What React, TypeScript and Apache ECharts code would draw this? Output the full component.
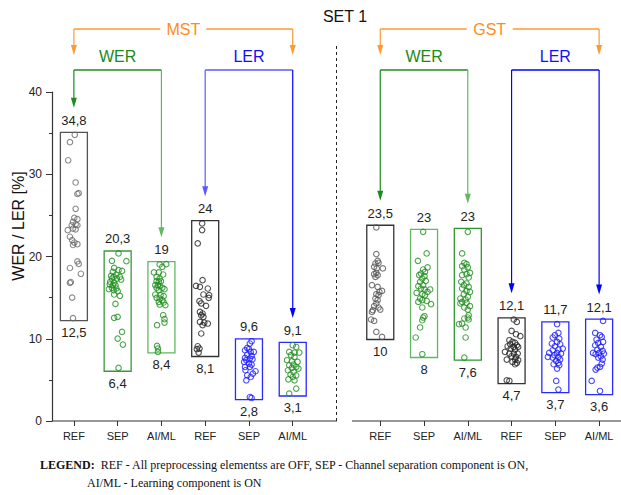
import React, { useEffect, useRef } from 'react';
import * as echarts from 'echarts';

// ---------- data ----------
const categories = ['REF', 'SEP', 'AI/ML', 'REF', 'SEP', 'AI/ML', '', 'REF', 'SEP', 'AI/ML', 'REF', 'SEP', 'AI/ML'];
const boxPositions = [0, 1, 2, 3, 4, 5, 7, 8, 9, 10, 11, 12];
const maxLabels = [34.8, 20.3, 19, 24, 9.6, 9.1, 23.5, 23, 23, 12.1, 11.7, 12.1];
const minLabels = [12.5, 6.4, 8.4, 8.1, 2.8, 3.1, 10, 8, 7.6, 4.7, 3.7, 3.6];
const boxHigh = [35.1, 20.67, 19.37, 24.36, 9.99, 9.55, 23.8, 23.3, 23.43, 12.55, 12.06, 12.39];
const boxLow = [12.2, 6.05, 8.28, 7.84, 2.6, 3.04, 9.91, 7.72, 7.39, 4.55, 3.46, 3.2];

// points: [jitter (category units), value]
const mstWerRef = [[0.02,34.8],[-0.09,33.9],[-0.13,31.7],[0.04,29.0],[0.11,27.7],[0.08,27.6],[0.04,25.8],[0.01,24.7],[0.08,24.55],[-0.02,24.2],[0.04,23.9],[-0.05,23.8],[0.08,23.8],[-0.02,23.4],[-0.14,23.2],[0.04,23.3],[-0.09,22.4],[-0.04,22.0],[0.01,21.7],[0.08,21.5],[-0.02,21.4],[0.08,19.4],[0.11,19.1],[-0.09,18.6],[0.16,17.9],[-0.07,16.9],[-0.09,16.8],[-0.04,15.0],[-0.02,12.5]];
const mstWerSep = [[0.02,20.37],[-0.13,19.47],[0.2,19.43],[-0.08,18.62],[0.02,18.34],[0.1,18.25],[-0.11,18.13],[-0.03,17.81],[-0.15,17.65],[-0.09,17.52],[0.05,17.52],[-0.13,17.32],[-0.02,17.32],[0.08,17.2],[-0.17,16.92],[-0.08,16.84],[-0.18,16.6],[-0.11,16.51],[-0.05,16.51],[-0.13,16.19],[-0.03,16.11],[-0.2,16.03],[-0.09,15.91],[0,15.78],[-0.08,15.38],[0.05,15.22],[-0.05,14.24],[-0.08,12.54],[0,12.66],[0.1,10.83],[0,10.02],[0.12,9.29],[0.02,6.45]];
const mstWerAi = [[0.11,19.07],[-0.04,19.03],[0.02,18.75],[-0.17,18.06],[-0.06,18.06],[0.04,17.81],[-0.11,17.52],[-0.04,17.32],[-0.11,17.0],[-0.06,16.92],[-0.01,17.0],[-0.14,16.51],[-0.08,16.51],[-0.04,16.43],[-0.11,16.19],[0.02,16.19],[0.07,16.03],[-0.06,15.91],[-0.14,15.38],[-0.02,15.3],[0.05,15.18],[-0.11,14.97],[-0.04,14.89],[0.02,14.69],[-0.06,14.48],[0.05,14.41],[0.09,14.08],[-0.04,14.16],[0.04,12.86],[0.07,12.38],[0.07,11.97],[-0.1,11.65],[-0.1,9.13],[-0.08,8.81],[-0.08,8.4]];
const mstLerRef = [[-0.07,24.02],[-0.07,23.21],[-0.17,21.59],[-0.06,17.12],[-0.21,16.43],[-0.12,16.31],[0.06,16.11],[-0.04,15.38],[0.09,15.3],[0.08,14.97],[-0.13,14.57],[-0.09,14.29],[0.02,14.0],[-0.12,13.26],[-0.06,13.07],[-0.09,12.86],[-0.04,12.66],[-0.12,12.05],[-0.02,11.97],[0.06,11.85],[-0.06,11.65],[-0.09,10.64],[-0.17,9.09],[-0.13,8.81],[-0.19,8.73],[-0.15,8.32]];
const mstLerSep = [[0.06,9.7],[0.02,9.42],[-0.04,8.88],[0,8.73],[-0.09,8.6],[0.04,8.4],[0.11,8.4],[-0.04,8.08],[0.06,7.91],[-0.09,7.67],[0.02,7.59],[-0.06,7.39],[0.08,7.51],[-0.11,7.18],[0,6.98],[0.06,6.86],[-0.09,6.57],[0.02,6.57],[-0.08,6.17],[0.15,6.05],[0.09,5.77],[-0.04,5.56],[0.04,5.35],[-0.06,4.95],[0.02,2.92],[0.06,2.8]];
const mstLerAi = [[0,9.21],[0.08,9.0],[-0.08,8.4],[0.04,8.32],[0.15,8.32],[-0.04,8.0],[0.04,7.79],[-0.13,7.39],[-0.02,7.26],[0.11,7.18],[0.02,6.86],[-0.08,6.78],[0.08,6.57],[-0.02,6.45],[0.13,6.37],[-0.11,6.17],[0.02,5.96],[-0.05,5.64],[0.08,5.56],[0,5.35],[-0.1,5.07],[0.04,4.95],[0.08,3.94],[-0.08,3.33]];
const gstWerRef = [[-0.09,23.53],[-0.09,20.29],[-0.06,19.47],[-0.11,19.15],[-0.04,19.23],[-0.14,18.75],[-0.08,18.55],[0.06,18.55],[-0.09,18.01],[-0.14,17.85],[-0.06,17.73],[-0.11,17.52],[-0.19,16.51],[-0.06,16.31],[-0.02,15.7],[0.04,15.82],[-0.09,15.42],[-0.04,15.3],[-0.11,14.89],[-0.06,14.69],[-0.09,14.29],[-0.14,13.96],[-0.04,13.8],[0,13.55],[-0.17,13.47],[-0.19,13.26],[-0.21,12.34],[-0.14,12.17],[-0.09,10.83],[0.04,10.22]];
const gstWerSep = [[-0.02,23.0],[0.06,20.37],[-0.14,19.47],[0.08,18.67],[-0.02,18.42],[0.02,18.13],[-0.07,17.93],[-0.11,17.73],[0.01,17.61],[-0.04,17.32],[-0.09,16.92],[0.04,17.04],[-0.02,16.51],[-0.13,16.39],[-0.07,16.11],[0.01,15.99],[0.14,15.99],[0.08,15.7],[-0.17,15.58],[-0.04,15.42],[0.02,15.3],[-0.09,14.89],[-0.04,14.69],[0.06,14.6],[-0.13,14.48],[0.16,14.2],[-0.04,13.8],[0.01,12.74],[-0.02,12.58],[-0.04,12.25],[-0.09,11.37],[-0.19,10.15],[-0.04,8.12]];
const gstWerAi = [[0,23.0],[-0.13,20.37],[-0.08,19.23],[-0.03,19.07],[-0.13,18.83],[0,18.67],[-0.08,18.42],[0.05,18.01],[-0.13,17.73],[-0.03,17.85],[0.02,17.45],[-0.15,16.92],[-0.03,16.72],[-0.09,16.51],[0.02,16.31],[-0.13,16.11],[-0.03,15.82],[0.05,15.7],[-0.09,15.42],[0,15.1],[-0.17,14.89],[-0.05,14.77],[-0.13,14.48],[-0.03,14.37],[-0.17,14.29],[0.05,13.96],[-0.08,13.8],[0,13.55],[0.02,12.86],[0,12.58],[-0.08,12.46],[-0.13,11.85],[0.02,12.34],[-0.2,11.77],[-0.05,11.37],[-0.05,10.15],[-0.08,7.71]];
const gstLerRef = [[0.05,12.34],[0.12,12.05],[0,10.95],[0.1,10.55],[0.2,10.31],[-0.05,9.82],[0.02,9.62],[0.08,9.49],[-0.03,9.33],[0.12,9.21],[-0.09,9.09],[0.05,9.01],[0.15,9.01],[-0.02,8.81],[0.08,8.69],[-0.15,8.4],[-0.05,8.2],[0.05,8.2],[0.14,8.2],[0,7.87],[0.1,7.79],[-0.11,7.47],[0.08,7.47],[0.15,7.39],[0.02,7.18],[0.12,7.06],[0.08,6.9],[-0.11,4.95],[-0.05,4.87]];
const gstLerSep = [[0.04,11.77],[0.07,10.71],[-0.01,10.43],[-0.06,10.15],[0.09,10.02],[0.04,9.62],[-0.08,9.42],[0.11,9.33],[-0.01,9.09],[0.17,8.81],[0.07,8.69],[-0.06,8.6],[-0.14,8.28],[0.04,8.28],[0.13,8.2],[-0.02,8.0],[-0.17,7.79],[0.07,7.79],[-0.06,7.71],[0.11,7.47],[0.02,7.3],[0.07,7.06],[-0.04,6.9],[0.09,6.78],[0.04,6.37],[0.02,4.87],[0.07,3.82]];
const gstLerAi = [[0.09,12.17],[-0.09,10.71],[0.02,10.43],[0.06,10.22],[-0.06,9.9],[0.09,9.62],[-0.02,9.49],[-0.09,9.21],[0.04,9.01],[-0.04,8.69],[0.08,8.52],[-0.14,8.28],[0,8.28],[0.11,8.2],[-0.08,8.12],[0.04,7.87],[-0.02,7.71],[0.08,7.47],[0.06,6.98],[-0.04,6.49],[0.02,6.57],[-0.08,6.25],[-0.17,4.87],[0.02,3.65]];

const pointSets = [mstWerRef, mstWerSep, mstWerAi, mstLerRef, mstLerSep, mstLerAi, gstWerRef, gstWerSep, gstWerAi, gstLerRef, gstLerSep, gstLerAi];

const yTicks = { min: 0, max: 40, interval: 10 };

// ---------- styles ----------
const FONT = 'Liberation Sans, Arial, sans-serif';
const SERIF = 'Liberation Serif, Times New Roman, serif';
const boxStroke = ['#555555', '#3a9a3a', '#62b862', '#333333', '#2a2aff', '#2a2aff', '#333333', '#62b862', '#2e962e', '#333333', '#2a2aff', '#2a2aff'];
const pointColor = ['#6a6a6a', '#1f8f1f', '#1f8f1f', '#222222', '#1a1aff', '#1f8f1f', '#555555', '#1f8f1f', '#1f8f1f', '#222222', '#1a1aff', '#1a1aff'];
const ORANGE = '#ff9933';
const GREEN = '#1f8a1f';
const GREEN_L = '#62b862';
const BLUE = '#0000ff';
const BLUE_L = '#5a5aff';

const fmt = (v: number) => String(v).replace('.', ',');

export default function App() {
  const ref = useRef<HTMLDivElement>(null);
  useEffect(() => {
    if (!ref.current) return;
    const chart = echarts.init(ref.current, null, { renderer: 'svg' });

    const boxData = boxPositions.map((p, i) => [p, boxLow[i], boxHigh[i]]);

    const scatterSeries = pointSets.map((pts, i) => ({
      type: 'scatter',
      xAxisIndex: 1,
      yAxisIndex: 0,
      symbol: 'circle',
      symbolSize: 5.5,
      itemStyle: { color: 'rgba(0,0,0,0)', borderColor: pointColor[i], borderWidth: 1.1 },
      data: pts.map(([j, v]) => [boxPositions[i] + j, v]),
      z: 3,
    }));

    const option: any = {
      animation: false,
      grid: { left: 52, right: -4, top: 92, bottom: 74, containLabel: false },
      xAxis: [
        {
          type: 'category',
          data: categories,
          boundaryGap: true,
          axisLine: { show: false },
          axisTick: { show: true, alignWithLabel: true, length: 5, interval: (i: number) => i !== 6, lineStyle: { color: '#333', width: 1 } },
          axisLabel: { interval: 0, fontSize: 11, color: '#222', margin: 9, fontFamily: FONT },
          splitLine: { show: false },
        },
        { type: 'value', min: -0.5, max: 12.5, show: false },
      ],
      yAxis: {
        type: 'value',
        min: yTicks.min,
        max: yTicks.max,
        interval: yTicks.interval,
        axisLine: { show: true, onZero: false, lineStyle: { color: '#333', width: 1.2 } },
        axisTick: { show: true, length: 6, lineStyle: { color: '#333' } },
        minorTick: { show: true, splitNumber: 2, length: 3, lineStyle: { color: '#333' } },
        axisLabel: { fontSize: 12, color: '#222', margin: 10, fontFamily: FONT },
        splitLine: { show: false },
      },
      series: [
        {
          type: 'custom',
          xAxisIndex: 1,
          yAxisIndex: 0,
          clip: false,
          data: boxData,
          renderItem: (params: any, api: any) => {
            const i = params.dataIndex;
            const x = api.value(0);
            const top = api.coord([x, api.value(2)]);
            const bot = api.coord([x, api.value(1)]);
            const w = 27;
            return {
              type: 'group',
              children: [
                { type: 'rect', shape: { x: top[0] - w / 2, y: top[1], width: w, height: bot[1] - top[1] }, style: { fill: 'none', stroke: boxStroke[i], lineWidth: 1.3 } },
                { type: 'text', style: { text: fmt(maxLabels[i]), x: top[0], y: top[1] - 12, align: 'center', verticalAlign: 'middle', fontSize: 13, fontFamily: FONT, fill: '#222' } },
                { type: 'text', style: { text: fmt(minLabels[i]), x: bot[0], y: bot[1] + 12, align: 'center', verticalAlign: 'middle', fontSize: 13, fontFamily: FONT, fill: '#222' } },
              ],
            };
          },
          z: 2,
        },
        ...scatterSeries,
      ],
    };
    chart.setOption(option);

    const P = (x: number, y: number) => chart.convertToPixel({ xAxisIndex: 1, yAxisIndex: 0 } as any, [x, y]) as number[];
    const g: any[] = [];
    const line = (x1: number, y1: number, x2: number, y2: number, color: string, w = 1.2, dash?: number[]) =>
      g.push({ type: 'line', shape: { x1, y1, x2, y2 }, style: { stroke: color, lineWidth: w, lineDash: dash } });
    const arrow = (x: number, y0: number, tip: number, color: string) => {
      line(x, y0, x, tip - 8, color);
      g.push({ type: 'polygon', shape: { points: [[x - 3, tip - 10], [x + 3, tip - 10], [x, tip]] }, style: { fill: color } });
    };
    const text = (t: string, x: number, y: number, color: string, size = 16) =>
      g.push({ type: 'text', x, y, style: { text: t, align: 'center', verticalAlign: 'middle', fontSize: size, fontFamily: FONT, fill: color } });

    // outer brackets
    const outer = [
      { from: 0, to: 5, label: 'MST' },
      { from: 7, to: 12, label: 'GST' },
    ];
    outer.forEach((o) => {
      const xl = P(o.from, 0)[0];
      const xr = P(o.to, 0)[0];
      const cx = (xl + xr) / 2;
      line(xl, 29, cx - 23, 29, ORANGE, 1.4);
      line(cx + 23, 29, xr, 29, ORANGE, 1.4);
      arrow(xl, 29, 55, ORANGE);
      arrow(xr, 29, 55, ORANGE);
      text(o.label, cx, 29, '#ff8c1a');
    });

    // inner brackets
    const inner = [
      { from: 0, to: 2, label: 'WER', color: GREEN, left: GREEN, right: GREEN_L, text: '#1a8a1a' },
      { from: 3, to: 5, label: 'LER', color: BLUE_L, left: BLUE_L, right: BLUE, text: '#1010ff' },
      { from: 6, to: 8, label: 'WER', color: GREEN, left: GREEN, right: GREEN_L, text: '#1a8a1a' },
      { from: 9, to: 11, label: 'LER', color: BLUE, left: BLUE, right: BLUE, text: '#1010ff' },
    ];
    inner.forEach((b) => {
      const pl = boxPositions[b.from];
      const pr = boxPositions[b.to];
      const xl = P(pl, 0)[0];
      const xr = P(pr, 0)[0];
      line(xl, 70, xr, 70, b.color, 1.3);
      arrow(xl, 70, P(pl, boxHigh[b.from])[1] - 24.5, b.left);
      arrow(xr, 70, P(pr, boxHigh[b.to])[1] - 24.5, b.right);
      text(b.label, (xl + xr) / 2, 56, b.text);
    });

    // divider
    const xd = P(6, 0)[0];
    const y0 = P(0, 0)[1];
    line(xd, 46, xd, y0, '#222', 1, [3, 3]);

    // x axis line with break
    line(52, y0, 337, y0, '#333', 1.2);
    line(352, y0, 621, y0, '#333', 1.2);

    // title and axis name
    text('SET 1', 345, 16, '#111');
    g.push({ type: 'text', x: 18, y: 226, rotation: Math.PI / 2, style: { text: 'WER / LER [%]', align: 'center', verticalAlign: 'middle', fontSize: 16, fontFamily: FONT, fill: '#111' } });

    // legend
    g.push({
      type: 'text', x: 40, y: 465,
      style: {
        text: '{b|LEGEND:}  REF - All preprocessing elementss are OFF, SEP - Channel separation component is ON,',
        verticalAlign: 'middle', fontSize: 12, fontFamily: SERIF, fill: '#111',
        rich: { b: { fontWeight: 'bold', fontSize: 12, fontFamily: SERIF, fill: '#111' } },
      },
    });
    g.push({ type: 'text', x: 87, y: 483, style: { text: 'AI/ML - Learning component is ON', verticalAlign: 'middle', fontSize: 12, fontFamily: SERIF, fill: '#111' } });

    chart.setOption({ graphic: g });

    return () => chart.dispose();
  }, []);

  return <div ref={ref} style={{ position: 'fixed', left: 0, top: 0, width: 621, height: 495, background: '#fff' }} />;
}
